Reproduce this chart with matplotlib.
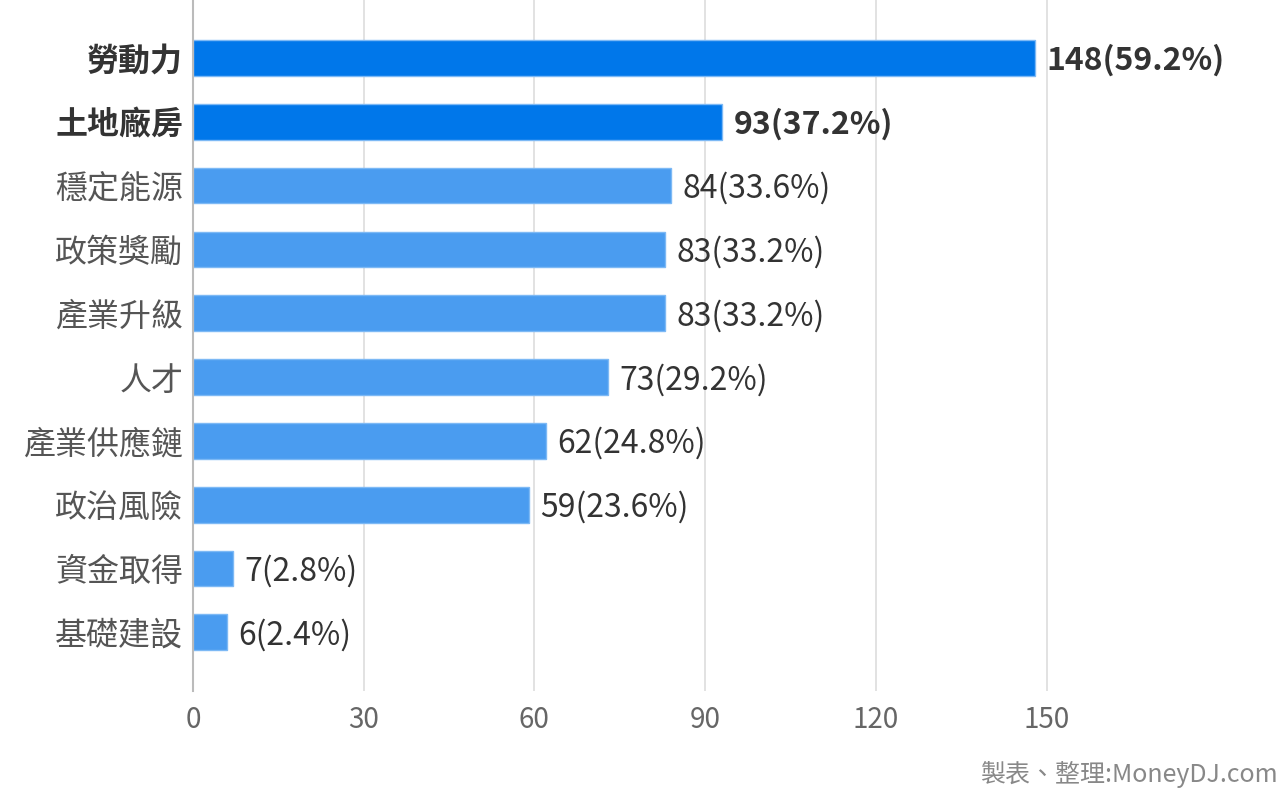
import matplotlib
matplotlib.use("Agg")
import matplotlib.pyplot as plt
import numpy as np

# --- data ---
categories = ["勞動力", "土地廠房", "穩定能源", "政策獎勵", "產業升級",
              "人才", "產業供應鏈", "政治風險", "資金取得", "基礎建設"]
counts = [148, 93, 84, 83, 83, 73, 62, 59, 7, 6]
percents = [59.2, 37.2, 33.6, 33.2, 33.2, 29.2, 24.8, 23.6, 2.8, 2.4]
highlight = [True, True, False, False, False, False, False, False, False, False]
x_ticks = [0, 30, 60, 90, 120, 150]

plt.rcParams['font.family'] = ['Noto Sans CJK TC', 'DejaVu Sans']

W, H = 1280, 789
fig = plt.figure(figsize=(W / 100, H / 100), dpi=100)
ax = fig.add_axes([193 / W, (H - 691) / H, 1067 / W, 691 / H])

y = np.arange(len(categories))
dark = "#0077EA"
light = "#4A9CF0"
colors = [dark if h else light for h in highlight]
ax.barh(y, counts, height=0.56, color=colors, edgecolor="#7DB9F5",
        linewidth=1, zorder=3)

ax.set_xlim(0, 1067 / 5.69)
ax.set_ylim(9.92, -0.909)

ax.set_xticks(x_ticks)
ax.set_xticklabels([str(t) for t in x_ticks], fontsize=20, color="#666666")
ax.set_yticks(y)
ax.set_yticklabels(categories, fontsize=23)
for lbl, h in zip(ax.get_yticklabels(), highlight):
    lbl.set_color("#333333" if h else "#555555")
    lbl.set_fontweight("bold" if h else "normal")

ax.tick_params(axis="both", length=0)
ax.tick_params(axis="y", pad=7)
ax.tick_params(axis="x", pad=10)

ax.grid(axis="x", color="#DDDDDD", linewidth=1.2, zorder=0)
for s in ["top", "right", "bottom"]:
    ax.spines[s].set_visible(False)
ax.spines["left"].set_color("#BBBBBB")
ax.spines["left"].set_linewidth(1.5)
ax.spines["left"].set_zorder(4)

for yi, c, p, h in zip(y, counts, percents, highlight):
    ax.annotate(f"{c}({p}%)", (c, yi), xytext=(8, -2), textcoords="offset points",
                ha="left", va="center", fontsize=23, color="#333333",
                fontweight="bold" if h else "normal")

fig.text(1278 / W, 1 - 774 / H, "製表、整理:MoneyDJ.com", ha="right", va="center",
         fontsize=18, color="#888888")

fig.savefig("out.png", dpi=100, facecolor="white")
